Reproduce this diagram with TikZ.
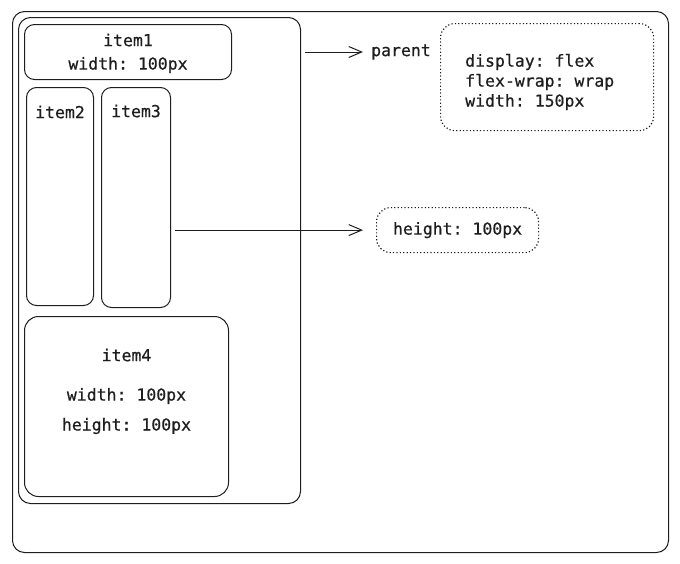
\documentclass[tikz,border=0pt]{standalone}
\usepackage{fontspec}
\setmonofont[FakeBold=0.6]{DejaVu Sans Mono}
\usetikzlibrary{arrows.meta,positioning}
\definecolor{ink}{HTML}{1E1E1E}
\tikzset{
  frame/.style={draw=ink,line width=1pt,rounded corners=#1,inner sep=0pt,anchor=north west},
  frame/.default=10pt,
  note/.style={draw=ink,line width=1.2pt,dash pattern=on 1.2pt off 2.2pt,rounded corners=14pt,inner sep=0pt,anchor=north west},
  code/.style={font=\ttfamily\fontsize{16.5}{20}\selectfont,text=ink,inner sep=0pt,align=left},
  flow/.style={-{Straight Barb[length=13pt,width=11pt,line width=1pt]},line width=1pt,draw=ink}
}
\begin{document}
\begin{tikzpicture}[x=1pt,y=-1pt]
    \useasboundingbox (0,0) rectangle (680,563);
    % containers
    \node[frame=12pt,minimum width=656pt,minimum height=541pt] (canvas) at (12,11) {};
    \node[frame=12pt,minimum width=282pt,minimum height=486pt] (parentbox) at (18,17) {};

    % flex items
    \node[frame,minimum width=207pt,minimum height=55pt] (item1) at (24,24) {};
    \node[frame,minimum width=67pt,minimum height=218pt] (item2) at (26,87) {};
    \node[frame,minimum width=69pt,minimum height=220pt] (item3) at (101,87) {};
    \node[frame=14pt,minimum width=204pt,minimum height=180pt] (item4) at (24,316) {};

    \node[code] (item1name) at ([yshift=-16pt]item1.north) {item1};
    \node[code] (item1w) at ([yshift=-41pt]item1.north) {width: 100px};
    \node[code] (item2name) at ([yshift=-25pt]item2.north) {item2};
    \node[code] (item3name) at ([yshift=-24pt]item3.north) {item3};
    \node[code] (item4name) at ([yshift=-39pt]item4.north) {item4};
    \node[code] (item4w) at ([yshift=-80pt]item4.north) {width: 100px};
    \node[code] (item4h) at ([yshift=-110pt]item4.north) {height: 100px};

    % notes
    \node[note,minimum width=213pt,minimum height=107pt] (note1) at (440,23) {};
    \node[code,anchor=west] (note1txt) at (465,82) {display: flex\\flex-wrap: wrap\\width: 150px};
    \node[note,minimum width=162pt,minimum height=45pt] (note2) at (376,207) {};
    \node[code] (note2txt) at (note2.center) {height: 100px};
    \node[code,anchor=west] (parentlbl) at (371,52) {parent};

    \draw[flow,shorten <=4pt,shorten >=8pt] (parentbox.east |- parentlbl.west) -- (parentlbl.west);
    \draw[flow,shorten <=4pt,shorten >=13pt] (item3.east |- note2.west) -- (note2.west);
\end{tikzpicture}
\end{document}
